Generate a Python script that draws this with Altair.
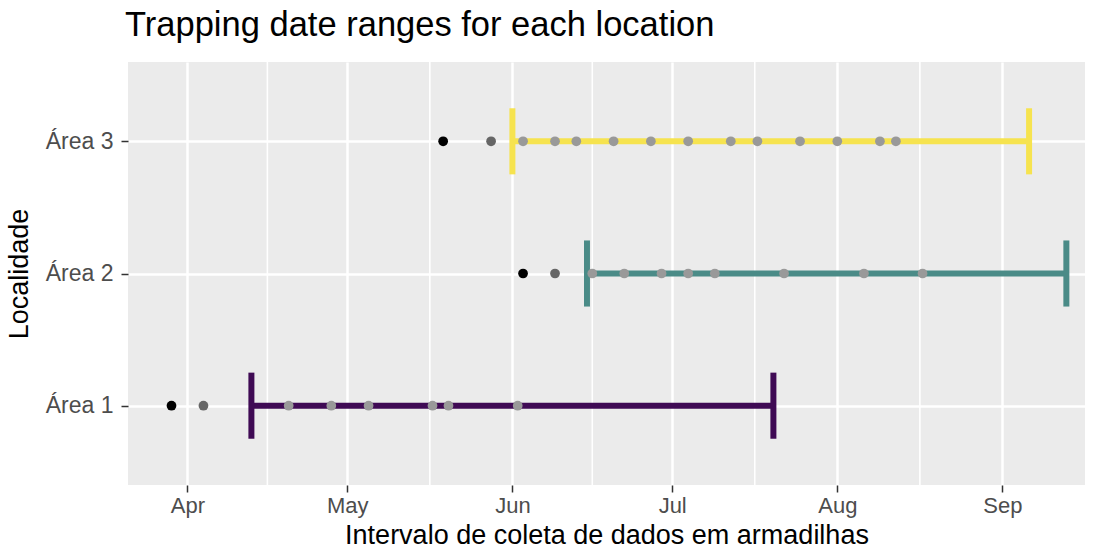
import altair as alt
import pandas as pd

# ---- data ----
areas = ["Área 1", "Área 2", "Área 3"]
range_start = ["2021-04-13", "2021-06-15", "2021-06-01"]
range_end = ["2021-07-20", "2021-09-13", "2021-09-06"]
first_dates = ["2021-03-29", "2021-06-03", "2021-05-19"]   # black points
second_dates = ["2021-04-04", "2021-06-09", "2021-05-28"]  # dark grey points
trap_area1 = ["2021-04-20", "2021-04-28", "2021-05-05", "2021-05-17", "2021-05-20", "2021-06-02"]
trap_area2 = ["2021-06-16", "2021-06-22", "2021-06-29", "2021-07-04", "2021-07-09",
              "2021-07-22", "2021-08-06", "2021-08-17"]
trap_area3 = ["2021-06-03", "2021-06-09", "2021-06-13", "2021-06-20", "2021-06-27", "2021-07-04",
              "2021-07-12", "2021-07-17", "2021-07-25", "2021-08-01", "2021-08-09", "2021-08-12"]
area_colors = ["#3F0A54", "#4A8B87", "#F6E34F"]
minor_grid = ["2021-04-16T00:00:00Z", "2021-05-16T12:00:00Z", "2021-06-16T00:00:00Z",
              "2021-07-16T12:00:00Z", "2021-08-16T12:00:00Z"]

idx = {a: i + 1 for i, a in enumerate(areas)}

df_range = pd.DataFrame({"area": areas, "start": range_start, "end": range_end,
                         "idx": [idx[a] for a in areas]})
df_first = pd.DataFrame({"area": areas, "date": first_dates, "idx": [idx[a] for a in areas]})
df_second = pd.DataFrame({"area": areas, "date": second_dates, "idx": [idx[a] for a in areas]})
trap_rows = []
for a, lst in zip(areas, [trap_area1, trap_area2, trap_area3]):
    for d in lst:
        trap_rows.append({"area": a, "date": d, "idx": idx[a]})
df_trap = pd.DataFrame(trap_rows)
df_minor = pd.DataFrame({"date": minor_grid})

xscale = alt.Scale(type="utc",
                   domain=[alt.DateTime(year=2021, month=3, date=20, hours=20, utc=True),
                           alt.DateTime(year=2021, month=9, date=16, hours=12, utc=True)])
month_vals = [alt.DateTime(year=2021, month=m, date=1, utc=True) for m in range(4, 10)]
xaxis = alt.Axis(values=month_vals, format="%b", title="Intervalo de coleta de dados em armadilhas",
                 labelPadding=3, titlePadding=6)

label_expr = " : ".join([f"datum.value == {idx[a]} ? '{a}'" for a in areas[:-1]]) + f" : '{areas[-1]}'"
yscale = alt.Scale(domain=[0.4, len(areas) + 0.6], nice=False, zero=False)
yaxis = alt.Axis(values=list(range(1, len(areas) + 1)), labelExpr=label_expr, title="Localidade",
                 labelPadding=8, labelFontSize=23, titlePadding=12)

color = alt.Color("area:N", scale=alt.Scale(domain=areas, range=area_colors), legend=None)

minor = alt.Chart(df_minor).mark_rule(color="white", strokeWidth=1.6).encode(
    x=alt.X("date:T", scale=xscale, axis=xaxis)
)

bar = alt.Chart(df_range).mark_rule(strokeWidth=6).encode(
    x=alt.X("start:T", scale=xscale, axis=xaxis),
    x2="end:T",
    y=alt.Y("idx:Q", scale=yscale, axis=yaxis),
    color=color,
)

cap_base = alt.Chart(df_range).transform_calculate(
    lo="datum.idx - 0.25", hi="datum.idx + 0.25"
)
cap_start = cap_base.mark_rule(strokeWidth=6).encode(
    x=alt.X("start:T", scale=xscale, axis=xaxis),
    y=alt.Y("lo:Q", scale=yscale, axis=yaxis),
    y2="hi:Q",
    color=color,
)
cap_end = cap_base.mark_rule(strokeWidth=6).encode(
    x=alt.X("end:T", scale=xscale, axis=xaxis),
    y=alt.Y("lo:Q", scale=yscale, axis=yaxis),
    y2="hi:Q",
    color=color,
)

def pts(df, col):
    return alt.Chart(df).mark_circle(size=95, opacity=1, color=col).encode(
        x=alt.X("date:T", scale=xscale, axis=xaxis),
        y=alt.Y("idx:Q", scale=yscale, axis=yaxis),
    )

chart = alt.layer(
    minor, bar, cap_start, cap_end,
    pts(df_first, "#000000"), pts(df_second, "#666666"), pts(df_trap, "#999999"),
).properties(
    width=957, height=423,
    title=alt.TitleParams("Trapping date ranges for each location", anchor="start", frame="group",
                          fontSize=34.5, font="Liberation Sans", fontWeight="normal", color="#000000",
                          offset=18, dx=-3),
    autosize=alt.AutoSizeParams(type="none"),
    padding={"left": 128, "top": 62, "right": 15, "bottom": 64},
    background="white",
).configure_view(
    fill="#EBEBEB", strokeWidth=0
).configure_axis(
    domain=False, grid=True, gridColor="white", gridWidth=2.5,
    tickColor="#333333", tickSize=7, tickWidth=1.5,
    labelColor="#4D4D4D", labelFontSize=22, labelFont="Liberation Sans",
    titleFont="Liberation Sans", titleFontSize=27, titleFontWeight="normal", titleColor="#000000",
)

chart.save("out.html", embed_options={"renderer": "svg", "actions": False})
